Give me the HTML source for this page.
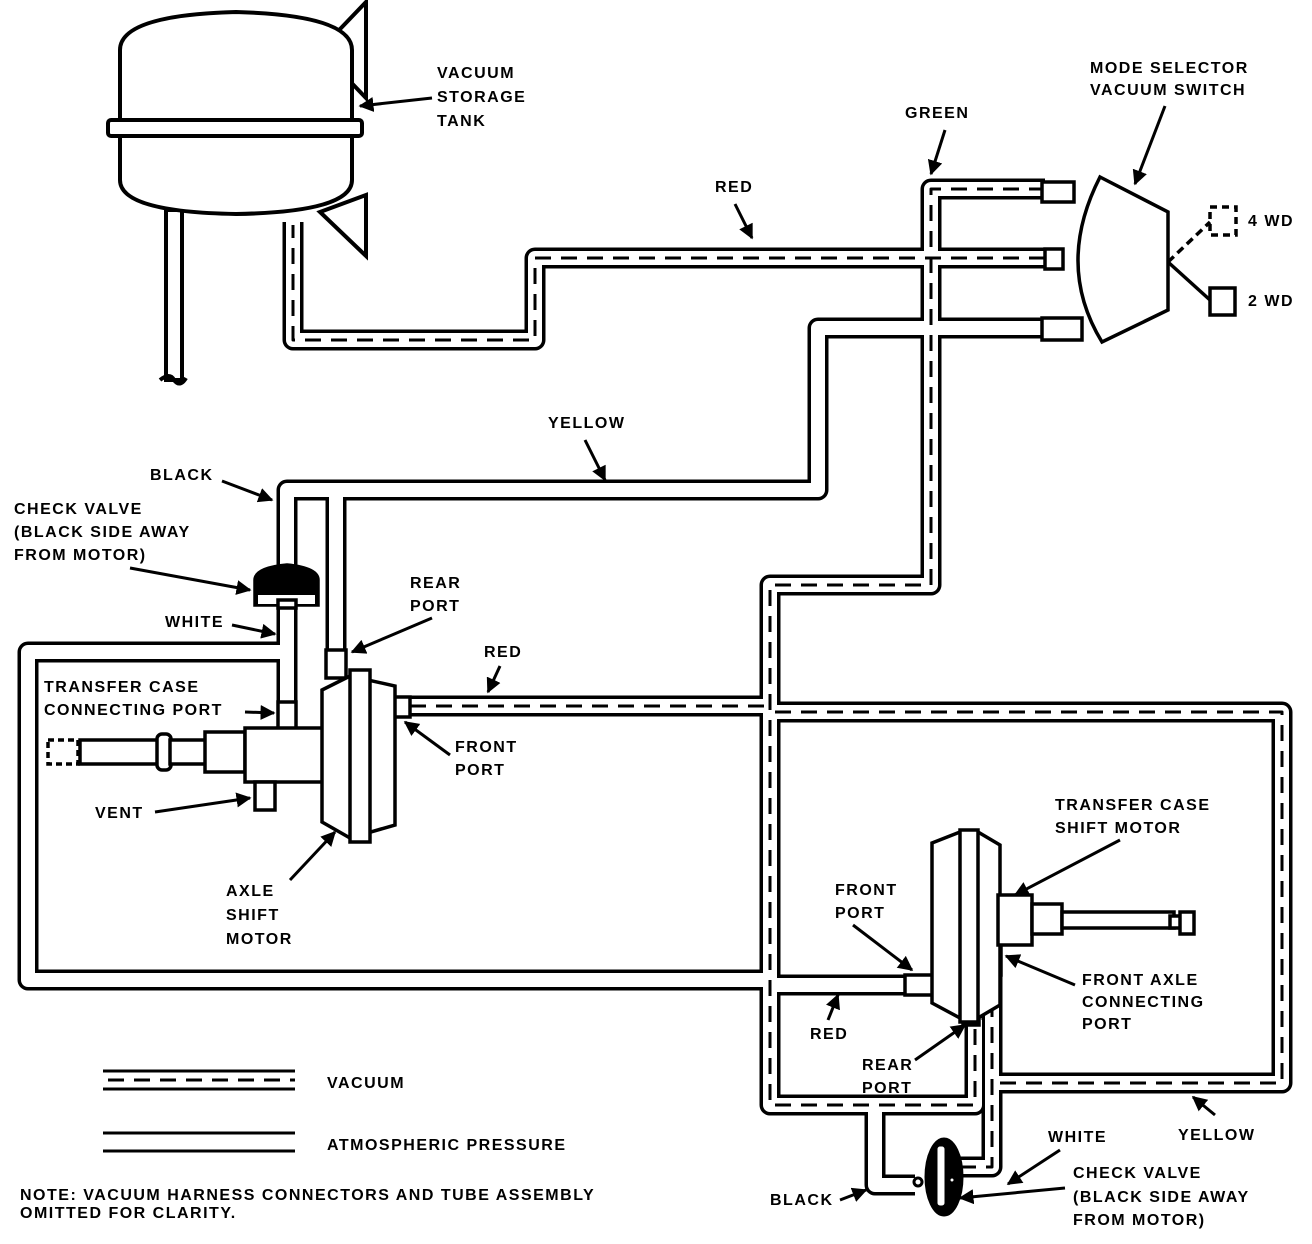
<!DOCTYPE html>
<html><head><meta charset="utf-8"><style>
html,body{margin:0;padding:0;background:#fff}
svg{display:block}
text{font-family:"Liberation Sans",sans-serif;font-weight:bold;font-size:16px;letter-spacing:1.5px;fill:#000}
</style></head><body>
<svg width="1312" height="1244" viewBox="0 0 1312 1244" xmlns="http://www.w3.org/2000/svg">
<defs>
<marker id="ah" viewBox="0 0 10 10" refX="9" refY="5" markerWidth="5" markerHeight="5" orient="auto"><path d="M0,0 L10,5 L0,10 z" fill="#000"/></marker>
</defs>
<g fill="none" stroke-linejoin="round">
<!-- tube outlines -->
<g stroke="#000" stroke-width="21">
<path d="M1045,258 H535 V340 H293 V222"/>
<path d="M1045,189 H931 V585 H770 V1105 H975 V1020"/>
<path d="M770,712 H1282 V1083 H995"/>
<path d="M992,965 V1167 H958"/>
<path d="M405,706 H770"/>
<path d="M1045,328 H818 V490 H287 V565"/>
<path d="M336,490 V660"/>
<path d="M287,605 V705"/>
<path d="M287,652 H28 V980 H770"/>
<path d="M770,985 H908"/>
<path d="M875,1105 V1185 H915"/>
</g>
<g stroke="#fff" stroke-width="14">
<path d="M1045,258 H535 V340 H293 V222"/>
<path d="M1045,189 H931 V585 H770 V1105 H975 V1020"/>
<path d="M770,712 H1282 V1083 H995"/>
<path d="M992,965 V1167 H958"/>
<path d="M405,706 H770"/>
<path d="M1045,328 H818 V490 H287 V565"/>
<path d="M336,490 V660"/>
<path d="M287,605 V705"/>
<path d="M287,652 H28 V980 H770"/>
<path d="M770,985 H908"/>
<path d="M875,1105 V1185 H915"/>
</g>
<g stroke="#000" stroke-width="3" stroke-dasharray="16,10">
<path d="M1045,258 H535 V340 H293 V225"/>
<path d="M1045,189 H931 V585 H770 V1105 H975 V1025"/>
<path d="M775,712 H1282 V1083 H995"/>
<path d="M992,975 V1167 H960"/>
<path d="M410,706 H765"/>
</g>
</g>
<!-- tank -->
<g stroke="#000" stroke-width="4" fill="#fff">
<path d="M320,50 L366,2 L366,98 Z"/>
<path d="M320,212 L366,195 L366,256 Z"/>
<rect x="166" y="210" width="16" height="170"/>
<path d="M160,380 q10,-8 14,0 q6,8 12,-2" fill="none"/>
<path d="M120,50 Q120,15 236,12 Q352,15 352,50 L352,180 Q352,212 236,214 Q120,212 120,180 Z"/>
<rect x="108" y="120" width="254" height="16" rx="3"/>
</g>
<!-- mode switch -->
<g stroke="#000" stroke-width="3.5" fill="#fff">
<rect x="1042" y="182" width="32" height="20"/>
<rect x="1045" y="249" width="18" height="20"/>
<rect x="1042" y="318" width="40" height="22"/>
<path d="M1100,177 L1168,212 L1168,310 L1102,342 Q1055,265 1100,177 Z"/>
<rect x="1210" y="207" width="26" height="28" stroke-dasharray="7,5"/>
<rect x="1210" y="288" width="25" height="27"/>
<path d="M1168,262 L1210,222" stroke-dasharray="8,5" fill="none"/>
<path d="M1168,262 L1210,300" fill="none"/>
</g>
<!-- top-left check valve -->
<g stroke="#000" stroke-width="3.5">
<path d="M255,580 Q255,568 287,565 Q318,568 318,580 L318,605 L255,605 Z" fill="#000"/>
<rect x="258" y="595" width="57" height="9" fill="#fff" stroke="none"/>
<rect x="278" y="600" width="18" height="8" fill="#fff"/>
</g>
<!-- axle shift motor -->
<g stroke="#000" stroke-width="3.5" fill="#fff">
<rect x="326" y="650" width="20" height="28"/>
<rect x="278" y="702" width="18" height="28"/>
<rect x="388" y="697" width="22" height="20"/>
<rect x="48" y="740" width="30" height="24" stroke-dasharray="6,4"/>
<rect x="80" y="740" width="80" height="24"/>
<rect x="157" y="734" width="14" height="36" rx="5"/>
<rect x="170" y="740" width="36" height="24"/>
<rect x="205" y="732" width="40" height="40"/>
<rect x="245" y="728" width="78" height="54"/>
<rect x="255" y="782" width="20" height="28"/>
<path d="M322,690 L350,676 L395,686 L395,825 L350,838 L322,822 Z"/>
<rect x="350" y="670" width="20" height="172"/>
</g>
<!-- transfer case shift motor -->
<g stroke="#000" stroke-width="3.5" fill="#fff">
<rect x="963" y="1005" width="16" height="20"/>
<rect x="985" y="947" width="16" height="28"/>
<rect x="905" y="975" width="28" height="20"/>
<path d="M932,843 L960,832 L978,832 L1000,845 L1000,1005 L978,1018 L960,1018 L932,1003 Z"/>
<rect x="960" y="830" width="18" height="192"/>
<rect x="998" y="895" width="34" height="50"/>
<rect x="1032" y="904" width="30" height="30"/>
<rect x="1062" y="912" width="112" height="16"/>
<rect x="1170" y="916" width="12" height="12"/>
<rect x="1180" y="912" width="14" height="22"/>
</g>
<!-- bottom check valve -->
<g stroke="#000" stroke-width="3">
<ellipse cx="944" cy="1177" rx="18" ry="38" fill="#000"/>
<rect x="936" y="1145" width="10" height="62" rx="4" fill="#fff"/>
<circle cx="918" cy="1182" r="4" fill="#fff"/>
<circle cx="952" cy="1180" r="3" fill="#fff"/>
</g>
<!-- legend -->
<g stroke="#000" stroke-width="3" fill="none">
<path d="M103,1071 H295 M103,1089 H295"/>
<path d="M108,1080 H295" stroke-dasharray="16,10"/>
<path d="M103,1133 H295 M103,1151 H295"/>
</g>
<!-- arrows -->
<g stroke="#000" stroke-width="3" marker-end="url(#ah)" fill="none">
<path d="M432,98 L360,106"/>
<path d="M1165,106 L1135,184"/>
<path d="M945,130 L931,174"/>
<path d="M735,204 L752,238"/>
<path d="M585,440 L605,480"/>
<path d="M222,481 L272,500"/>
<path d="M130,568 L250,590"/>
<path d="M232,625 L275,634"/>
<path d="M432,618 L352,652"/>
<path d="M500,666 L488,692"/>
<path d="M245,712 L274,713"/>
<path d="M450,755 L405,722"/>
<path d="M155,812 L250,798"/>
<path d="M290,880 L335,832"/>
<path d="M1120,840 L1015,895"/>
<path d="M853,925 L912,970"/>
<path d="M1075,985 L1006,956"/>
<path d="M828,1020 L838,995"/>
<path d="M915,1060 L965,1025"/>
<path d="M1060,1150 L1008,1184"/>
<path d="M1215,1115 L1193,1097"/>
<path d="M1065,1188 L960,1198"/>
<path d="M840,1200 L866,1190"/>
</g>
<!-- labels -->
<text x="437" y="78">VACUUM</text>
<text x="437" y="102">STORAGE</text>
<text x="437" y="126">TANK</text>
<text x="1090" y="73">MODE SELECTOR</text>
<text x="1090" y="95">VACUUM SWITCH</text>
<text x="905" y="118">GREEN</text>
<text x="715" y="192">RED</text>
<text x="1248" y="226" font-size="14">4 WD</text>
<text x="1248" y="306" font-size="14">2 WD</text>
<text x="548" y="428">YELLOW</text>
<text x="150" y="480">BLACK</text>
<text x="14" y="514">CHECK VALVE</text>
<text x="14" y="537">(BLACK SIDE AWAY</text>
<text x="14" y="560">FROM MOTOR)</text>
<text x="410" y="588">REAR</text>
<text x="410" y="611">PORT</text>
<text x="165" y="627">WHITE</text>
<text x="484" y="657">RED</text>
<text x="44" y="692">TRANSFER CASE</text>
<text x="44" y="715">CONNECTING PORT</text>
<text x="455" y="752">FRONT</text>
<text x="455" y="775">PORT</text>
<text x="95" y="818">VENT</text>
<text x="226" y="896">AXLE</text>
<text x="226" y="920">SHIFT</text>
<text x="226" y="944">MOTOR</text>
<text x="1055" y="810">TRANSFER CASE</text>
<text x="1055" y="833">SHIFT MOTOR</text>
<text x="835" y="895">FRONT</text>
<text x="835" y="918">PORT</text>
<text x="1082" y="985">FRONT AXLE</text>
<text x="1082" y="1007">CONNECTING</text>
<text x="1082" y="1029">PORT</text>
<text x="810" y="1039">RED</text>
<text x="862" y="1070">REAR</text>
<text x="862" y="1093">PORT</text>
<text x="327" y="1088">VACUUM</text>
<text x="327" y="1150">ATMOSPHERIC PRESSURE</text>
<text x="1048" y="1142">WHITE</text>
<text x="1178" y="1140">YELLOW</text>
<text x="1073" y="1178">CHECK VALVE</text>
<text x="1073" y="1202">(BLACK SIDE AWAY</text>
<text x="1073" y="1225">FROM MOTOR)</text>
<text x="770" y="1205">BLACK</text>
<text x="20" y="1200" font-size="15" letter-spacing="0.5">NOTE: VACUUM HARNESS CONNECTORS AND TUBE ASSEMBLY</text>
<text x="20" y="1218" font-size="15" letter-spacing="0.5">OMITTED FOR CLARITY.</text>
</svg>
</body></html>
